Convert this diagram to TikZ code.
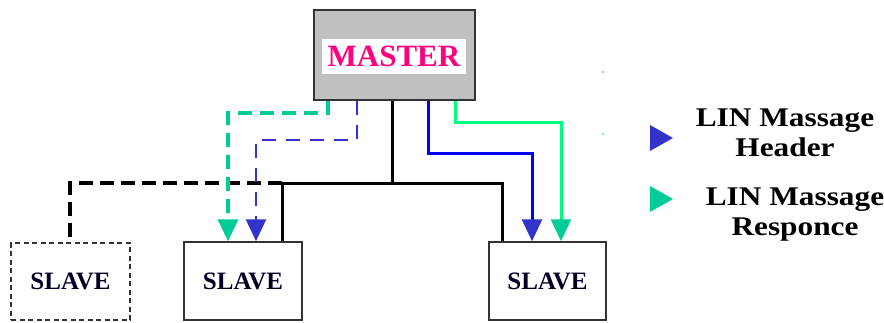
\documentclass[tikz,border=0pt]{standalone}
\usepackage{fontspec}
\setmainfont{Liberation Serif}
\usetikzlibrary{arrows.meta}

\definecolor{masterpink}{RGB}{255,0,128}
\definecolor{respteal}{RGB}{0,204,153}
\definecolor{hdrblue}{RGB}{51,51,204}
\definecolor{wireblue}{RGB}{0,0,255}
\definecolor{wiregreen}{RGB}{0,255,128}
\definecolor{boxgray}{RGB}{192,192,192}

\begin{document}
\begin{tikzpicture}[x=1pt,y=1pt,
  masterbox/.style={draw=black!80, fill=boxgray, line width=2pt,
    minimum width=161pt, minimum height=90pt, inner sep=0pt},
  masterlabel/.style={fill=white, minimum width=144pt, minimum height=35pt,
    inner sep=0pt, text=masterpink, font=\fontsize{31}{34}\selectfont\bfseries},
  slavebox/.style={draw=black!80, line width=1.5pt, minimum width=118pt,
    minimum height=78pt, inner sep=0pt, text=black!85!blue,
    font=\fontsize{25}{28}\selectfont\bfseries},
  ghostslave/.style={slavebox, dash pattern=on 5pt off 3.5pt},
  bus/.style={line width=3pt},
  ghostbus/.style={line width=4pt, dash pattern=on 14pt off 7pt},
  hdrtip/.style={-{Triangle[length=22pt,width=20pt,color=hdrblue]}},
  rsptip/.style={-{Triangle[length=22pt,width=20pt,color=respteal]}},
  legendtext/.style={align=center, transform shape, xscale=1.16,
    font=\fontsize{27}{30}\selectfont\bfseries}
]
\useasboundingbox (0,0) rectangle (884,322);

% master node with its white label
\node[masterbox] (M) at (394.5,267) {};
\node[masterlabel] (ML) at (394,265.5) {MASTER};

% slave nodes
\node[ghostslave] (S1) at (70.5,40.5) [minimum width=119pt, minimum height=77pt] {SLAVE};
\node[slavebox] (S2) at (243,41) {SLAVE};
\node[slavebox] (S3) at (547.5,41) [minimum width=117pt] {SLAVE};

% bus bend points
\coordinate (busM) at (392,139);
\coordinate (busL) at (282,139);
\coordinate (busR) at (502,139);
\coordinate (dropS1) at (70,139);

% LIN bus wiring
\draw[bus] (M.south -| busM) -- (busM);
\draw[bus] (S2.north -| busL) |- (busR) -- (S3.north -| busR);
\draw[ghostbus] (busL) -- (dropS1) -- (S1.north -| dropS1);

% header and response routes to the middle slave (dashed)
\coordinate (rspA) at (328,209);
\coordinate (rspB) at (228,209);
\coordinate (hdrA) at (357,182);
\coordinate (hdrB) at (256,182);
\draw[respteal, line width=3.5pt, dash pattern=on 14pt off 8pt, rsptip]
  (M.south -| rspA) -- (rspA) -- (rspB) -- (S2.north -| rspB);
\draw[hdrblue, line width=2.6pt, dash pattern=on 14pt off 10pt, hdrtip]
  (M.south -| hdrA) -- (hdrA) -- (hdrB) -- (S2.north -| hdrB);

% header and response routes to the right slave (solid)
\coordinate (hdrC) at (428,169);
\coordinate (hdrD) at (532,169);
\coordinate (rspC) at (455,200);
\coordinate (rspD) at (561,200);
\draw[wireblue, line width=3pt, hdrtip]
  (M.south -| hdrC) -- (hdrC) -- (hdrD) -- (S3.north -| hdrD);
\draw[wiregreen, line width=3pt, rsptip]
  (M.south -| rspC) -- (rspC) -- (rspD) -- (S3.north -| rspD);

% legend
\fill[hdrblue!70] (603,250) circle (0.8);
\fill[respteal] (603,188) circle (0.8);
\fill[hdrblue] (650,197) -- (650,171) -- (673,184) -- cycle;
\fill[respteal] (650,136) -- (650,110) -- (673,123) -- cycle;
\node[legendtext] (LH) at (785,189) {LIN Massage\\Header};
\node[legendtext] (LR) at (795,107) {LIN Massage\\Responce};
\end{tikzpicture}
\end{document}
